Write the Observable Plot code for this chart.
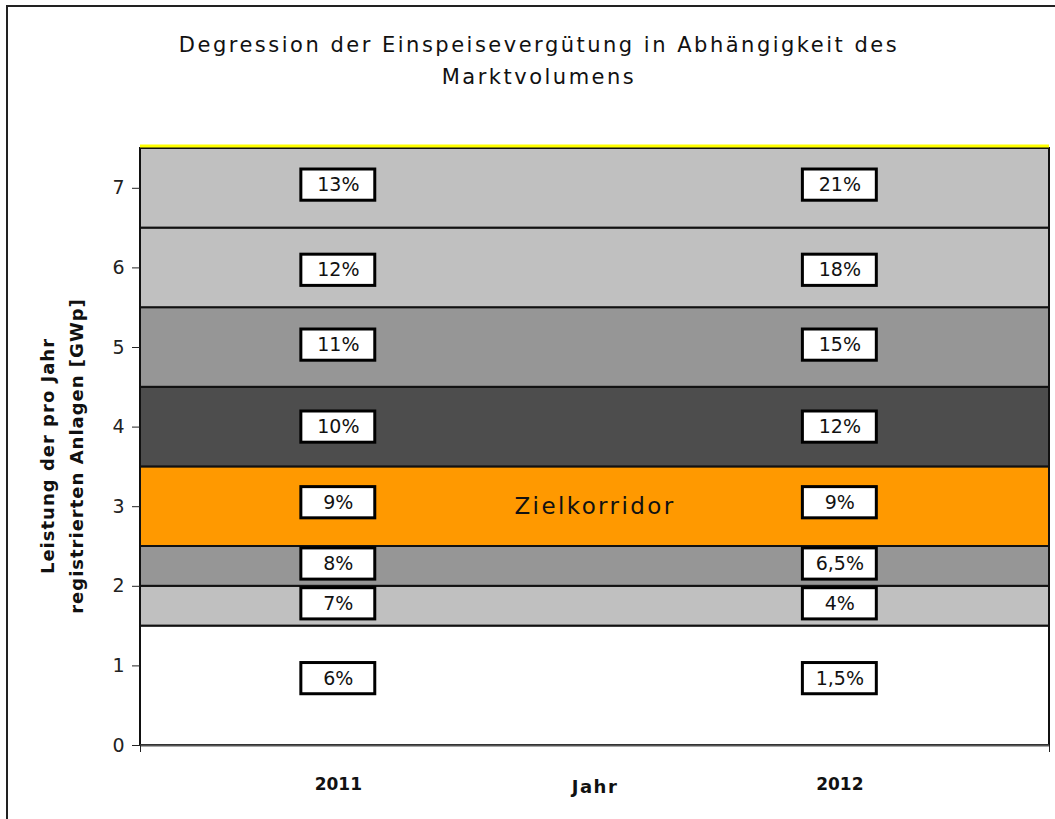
<!DOCTYPE html>
<html><head><meta charset="utf-8">
<script src="https://cdn.jsdelivr.net/npm/d3@7"></script>
<script src="https://cdn.jsdelivr.net/npm/@observablehq/plot@0.6"></script>
<style>
body{margin:0;background:#fff;font-family:"DejaVu Sans",sans-serif}
#wrap{position:relative;width:1055px;height:819px;overflow:hidden;background:#fff}
#frame{position:absolute;left:6px;top:5px;width:1120px;height:900px;border:2px solid #222;box-sizing:border-box}
#title{position:absolute;left:0;top:29px;width:1078px;text-align:center;font-size:21px;letter-spacing:2.5px;line-height:32px;color:#111}
#chart{position:absolute;left:0;top:0}
</style></head>
<body>
<div id="wrap">
  <div id="frame"></div>
  <div id="title">Degression der Einspeisevergütung in Abhängigkeit des<br>Marktvolumens</div>
  <div id="chart"></div>
</div>
<script>
// ---- data ----
const years = [2011, 2012];
const bandLow  = [0, 1.5, 2, 2.5, 3.5, 4.5, 5.5, 6.5];
const bandHigh = [1.5, 2, 2.5, 3.5, 4.5, 5.5, 6.5, 7.5];
const bandFill = ["#ffffff", "#c0c0c0", "#969696", "#ff9900", "#4d4d4d", "#969696", "#c0c0c0", "#c0c0c0"];
const labelPos = [0.84, 1.78, 2.28, 3.05, 4.0, 5.03, 5.97, 7.04];
const rates2011 = ["6%", "7%", "8%", "9%", "10%", "11%", "12%", "13%"];
const rates2012 = ["1,5%", "4%", "6,5%", "9%", "12%", "15%", "18%", "21%"];
const yTicks = [0, 1, 2, 3, 4, 5, 6, 7];
const corridorLabel = "Zielkorridor";
const corridorY = 3;
const yLabel = "Leistung der pro Jahr\nregistrierten Anlagen [GWp]";
const xLabel = "Jahr";

// ---- tables built from arrays ----
const bands = bandLow.map((lo, i) => ({lo, hi: bandHigh[i], fill: bandFill[i]}));
const boxes = [];
labelPos.forEach((y, i) => {
  boxes.push({year: years[0], y, text: rates2011[i]});
  boxes.push({year: years[1], y, text: rates2012[i]});
});

const xDomain = [2010.6056, 2012.418];
const bw = 0.0737, bh = 0.196;

const chart = Plot.plot({
  width: 1055,
  height: 819,
  marginLeft: 140,
  marginRight: 6,
  marginTop: 148,
  marginBottom: 74,
  style: {background: "transparent", color: "#222", fontFamily: "DejaVu Sans, sans-serif"},
  x: {domain: xDomain, axis: null},
  y: {domain: [0, 7.5], axis: null},
  marks: [
    Plot.rect(bands, {y1: "lo", y2: "hi", fill: "fill", stroke: "#111", strokeWidth: 2}),
    Plot.ruleY([7.5], {stroke: "#ffff00", strokeWidth: 3, dy: -2.5}),
    Plot.ruleY([0], {stroke: "#555", strokeWidth: 2}),
    Plot.axisY({ticks: yTicks, tickSize: 8, tickPadding: 8, fontSize: 19, stroke: "#222", label: null}),
    Plot.axisX({ticks: xDomain, tickSize: 7, tickFormat: () => "", stroke: "#222", label: null}),
    Plot.axisX({ticks: years, tickSize: 0, tickPadding: 32, fontSize: 17, fontWeight: "bold", tickFormat: d => String(d), fill: "#111", label: null}),
    Plot.text([xLabel], {frameAnchor: "bottom", dy: 42, fontSize: 18, fontWeight: "bold", fill: "#111", lineAnchor: "middle"}),
    Plot.text([yLabel], {frameAnchor: "left", textAnchor: "middle", lineAnchor: "middle", rotate: -90, dx: -81, dy: 9, fontSize: 18, fontWeight: "bold", lineHeight: 1.6, fill: "#111"}),
    Plot.text([corridorLabel], {frameAnchor: "middle", y: corridorY, fontSize: 23, fill: "#111"}),
    Plot.rect(boxes, {x1: d => d.year - bw, x2: d => d.year + bw, y1: d => d.y - bh, y2: d => d.y + bh, fill: "#fff", stroke: "#000", strokeWidth: 3}),
    Plot.text(boxes, {x: "year", y: "y", text: "text", fontSize: 19, fill: "#111"})
  ]
});
// letter spacing for the spaced-out labels
d3.select(chart).selectAll("text").each(function() {
  const t = this.textContent;
  if (t.includes("Leistung")) this.style.letterSpacing = "1px";
  else if (t === corridorLabel) this.style.letterSpacing = "2.4px";
  else if (t === xLabel) this.style.letterSpacing = "1.5px";
});
document.getElementById("chart").appendChild(chart);
</script>
</body></html>
